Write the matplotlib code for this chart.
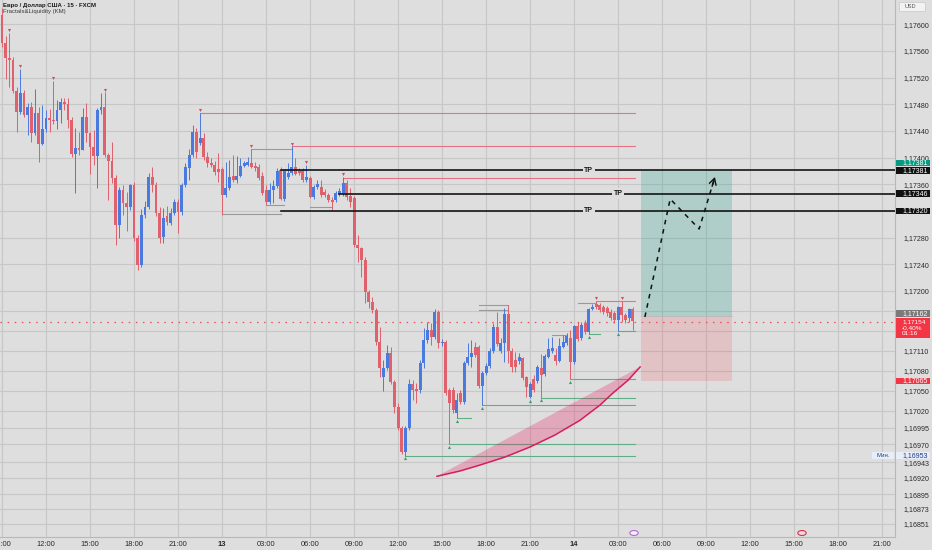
import matplotlib
matplotlib.use("Agg")
import matplotlib.pyplot as plt
import matplotlib.transforms as mtransforms
from matplotlib.patches import Rectangle, Polygon
import numpy as np

plt.rcParams['font.family'] = ['Liberation Sans', 'DejaVu Sans']

title = "Евро / Доллар США · 15 · FXCM"
indicator = "Fractals&Liquidity (KM)"

opens = [
 1.17614, 1.17572, 1.17549, 1.17547, 1.17500, 1.17468, 1.17497, 1.17464, 1.17476, 1.17437,
 1.17467, 1.17420, 1.17443, 1.17459, 1.17456, 1.17455, 1.17471, 1.17483, 1.17480, 1.17456,
 1.17405, 1.17414, 1.17411, 1.17461, 1.17437, 1.17416, 1.17402, 1.17471, 1.17476, 1.17404,
 1.17395, 1.17369, 1.17299, 1.17351, 1.17332, 1.17326, 1.17359, 1.17279, 1.17239, 1.17314,
 1.17326, 1.17371, 1.17359, 1.17317, 1.17281, 1.17312, 1.17302, 1.17317, 1.17333, 1.17318,
 1.17359, 1.17384, 1.17404, 1.17438, 1.17422, 1.17429, 1.17401, 1.17392, 1.17389, 1.17383,
 1.17383, 1.17344, 1.17354, 1.17372, 1.17366, 1.17372, 1.17387, 1.17389, 1.17392, 1.17387,
 1.17386, 1.17372, 1.17351, 1.17333, 1.17351, 1.17357, 1.17381, 1.17338, 1.17371, 1.17377,
 1.17386, 1.17380, 1.17380, 1.17366, 1.17369, 1.17341, 1.17356, 1.17356, 1.17348, 1.17344,
 1.17336, 1.17336, 1.17345, 1.17345, 1.17362, 1.17342, 1.17339, 1.17269, 1.17264, 1.17246,
 1.17198, 1.17183, 1.17171, 1.17123, 1.17071, 1.17084, 1.17107, 1.17063, 1.17026, 1.16995,
 1.16958, 1.16995, 1.17060, 1.17053, 1.17051, 1.17092, 1.17126, 1.17141, 1.17131, 1.17168,
 1.17122, 1.17123, 1.17051, 1.17051, 1.17017, 1.17047, 1.17033, 1.17092, 1.17101, 1.17116,
 1.17116, 1.17057, 1.17077, 1.17087, 1.17110, 1.17146, 1.17110, 1.17122, 1.17165, 1.17110,
 1.17096, 1.17095, 1.17099, 1.17071, 1.17041, 1.17068, 1.17065, 1.17084, 1.17075, 1.17101,
 1.17110, 1.17104, 1.17095, 1.17116, 1.17122, 1.17129, 1.17093, 1.17147, 1.17129, 1.17152,
 1.17138, 1.17173, 1.17180, 1.17179, 1.17176, 1.17174, 1.17168, 1.17167, 1.17156, 1.17176,
 1.17164, 1.17159, 1.17173]

highs = [
 1.17624, 1.17582, 1.17587, 1.17551, 1.17506, 1.17533, 1.17501, 1.17482, 1.17483, 1.17503,
 1.17476, 1.17479, 1.17471, 1.17473, 1.17515, 1.17486, 1.17489, 1.17489, 1.17489, 1.17461,
 1.17444, 1.17438, 1.17474, 1.17482, 1.17438, 1.17441, 1.17474, 1.17497, 1.17498, 1.17407,
 1.17423, 1.17374, 1.17356, 1.17359, 1.17348, 1.17360, 1.17363, 1.17284, 1.17323, 1.17335,
 1.17377, 1.17386, 1.17363, 1.17326, 1.17324, 1.17327, 1.17324, 1.17338, 1.17338, 1.17362,
 1.17392, 1.17413, 1.17449, 1.17444, 1.17467, 1.17437, 1.17408, 1.17399, 1.17395, 1.17407,
 1.17386, 1.17393, 1.17396, 1.17404, 1.17402, 1.17399, 1.17395, 1.17401, 1.17413, 1.17393,
 1.17390, 1.17378, 1.17359, 1.17362, 1.17366, 1.17384, 1.17386, 1.17383, 1.17392, 1.17417,
 1.17399, 1.17384, 1.17384, 1.17389, 1.17372, 1.17359, 1.17366, 1.17366, 1.17353, 1.17347,
 1.17341, 1.17350, 1.17354, 1.17371, 1.17366, 1.17354, 1.17342, 1.17284, 1.17266, 1.17251,
 1.17201, 1.17191, 1.17174, 1.17146, 1.17096, 1.17119, 1.17116, 1.17066, 1.17032, 1.16998,
 1.16998, 1.17068, 1.17066, 1.17062, 1.17096, 1.17144, 1.17153, 1.17152, 1.17173, 1.17171,
 1.17128, 1.17126, 1.17054, 1.17056, 1.17047, 1.17051, 1.17095, 1.17122, 1.17126, 1.17123,
 1.17119, 1.17080, 1.17092, 1.17114, 1.17152, 1.17168, 1.17129, 1.17174, 1.17179, 1.17114,
 1.17108, 1.17107, 1.17101, 1.17072, 1.17063, 1.17074, 1.17089, 1.17105, 1.17105, 1.17129,
 1.17131, 1.17114, 1.17129, 1.17134, 1.17137, 1.17141, 1.17149, 1.17153, 1.17153, 1.17156,
 1.17174, 1.17180, 1.17185, 1.17182, 1.17179, 1.17177, 1.17173, 1.17170, 1.17177, 1.17185,
 1.17167, 1.17174, 1.17176]

lows = [
 1.17566, 1.17518, 1.17506, 1.17497, 1.17438, 1.17465, 1.17461, 1.17434, 1.17423, 1.17434,
 1.17393, 1.17419, 1.17438, 1.17438, 1.17450, 1.17443, 1.17452, 1.17471, 1.17444, 1.17401,
 1.17347, 1.17404, 1.17411, 1.17423, 1.17375, 1.17389, 1.17354, 1.17465, 1.17401, 1.17336,
 1.17362, 1.17269, 1.17279, 1.17314, 1.17290, 1.17321, 1.17275, 1.17231, 1.17236, 1.17309,
 1.17323, 1.17348, 1.17312, 1.17272, 1.17272, 1.17299, 1.17299, 1.17314, 1.17287, 1.17314,
 1.17356, 1.17366, 1.17401, 1.17399, 1.17419, 1.17396, 1.17386, 1.17386, 1.17374, 1.17363,
 1.17314, 1.17341, 1.17351, 1.17363, 1.17362, 1.17371, 1.17386, 1.17387, 1.17384, 1.17380,
 1.17366, 1.17344, 1.17329, 1.17330, 1.17332, 1.17354, 1.17336, 1.17335, 1.17368, 1.17374,
 1.17374, 1.17374, 1.17363, 1.17363, 1.17339, 1.17338, 1.17353, 1.17341, 1.17341, 1.17333,
 1.17321, 1.17333, 1.17342, 1.17342, 1.17336, 1.17326, 1.17266, 1.17243, 1.17221, 1.17182,
 1.17174, 1.17167, 1.17119, 1.17071, 1.17050, 1.17081, 1.17060, 1.17017, 1.16991, 1.16956,
 1.16953, 1.16992, 1.17036, 1.17032, 1.17047, 1.17084, 1.17122, 1.17119, 1.17128, 1.17114,
 1.17117, 1.17044, 1.16970, 1.17017, 1.17009, 1.17030, 1.17030, 1.17089, 1.17086, 1.17101,
 1.17054, 1.17029, 1.17074, 1.17084, 1.17107, 1.17117, 1.17107, 1.17093, 1.17092, 1.17078,
 1.17078, 1.17090, 1.17066, 1.17041, 1.17039, 1.17048, 1.17062, 1.17040, 1.17072, 1.17099,
 1.17107, 1.17089, 1.17093, 1.17114, 1.17119, 1.17068, 1.17090, 1.17125, 1.17126, 1.17135,
 1.17135, 1.17171, 1.17173, 1.17168, 1.17165, 1.17162, 1.17156, 1.17152, 1.17140, 1.17153,
 1.17152, 1.17153, 1.17141]

closes = [
 1.17572, 1.17549, 1.17547, 1.17500, 1.17468, 1.17497, 1.17464, 1.17476, 1.17437, 1.17467,
 1.17420, 1.17443, 1.17459, 1.17456, 1.17455, 1.17471, 1.17483, 1.17480, 1.17456, 1.17405,
 1.17414, 1.17411, 1.17461, 1.17437, 1.17416, 1.17402, 1.17471, 1.17476, 1.17404, 1.17395,
 1.17369, 1.17299, 1.17351, 1.17332, 1.17326, 1.17359, 1.17279, 1.17239, 1.17314, 1.17326,
 1.17371, 1.17359, 1.17317, 1.17279, 1.17309, 1.17303, 1.17317, 1.17333, 1.17318, 1.17359,
 1.17386, 1.17404, 1.17438, 1.17408, 1.17429, 1.17401, 1.17392, 1.17389, 1.17378, 1.17378,
 1.17344, 1.17354, 1.17371, 1.17366, 1.17372, 1.17387, 1.17392, 1.17393, 1.17386, 1.17384,
 1.17369, 1.17347, 1.17333, 1.17351, 1.17357, 1.17380, 1.17338, 1.17380, 1.17377, 1.17386,
 1.17375, 1.17377, 1.17366, 1.17371, 1.17341, 1.17356, 1.17360, 1.17344, 1.17344, 1.17336,
 1.17333, 1.17347, 1.17350, 1.17362, 1.17341, 1.17333, 1.17269, 1.17264, 1.17246, 1.17198,
 1.17183, 1.17171, 1.17123, 1.17084, 1.17084, 1.17107, 1.17063, 1.17026, 1.16995, 1.16958,
 1.16995, 1.17060, 1.17051, 1.17050, 1.17092, 1.17126, 1.17141, 1.17131, 1.17168, 1.17122,
 1.17123, 1.17047, 1.17032, 1.17021, 1.17036, 1.17033, 1.17092, 1.17101, 1.17107, 1.17104,
 1.17057, 1.17077, 1.17087, 1.17110, 1.17146, 1.17120, 1.17122, 1.17165, 1.17110, 1.17086,
 1.17086, 1.17101, 1.17069, 1.17056, 1.17060, 1.17051, 1.17086, 1.17074, 1.17102, 1.17113,
 1.17114, 1.17095, 1.17117, 1.17123, 1.17132, 1.17093, 1.17147, 1.17128, 1.17149, 1.17138,
 1.17173, 1.17176, 1.17176, 1.17171, 1.17168, 1.17167, 1.17159, 1.17156, 1.17176, 1.17164,
 1.17156, 1.17173, 1.17155]

# time axis (bar index of 15-minute bars, bar 0 = 09:00 on the 12th)
x_tick_bars = [0, 12, 24, 36, 48, 60, 72, 84, 96, 108, 120, 132, 144, 156,
               168, 180, 192, 204, 216, 228, 240]
x_tick_labels = ["09:00", "12:00", "15:00", "18:00", "21:00", "13", "03:00", "06:00",
                 "09:00", "12:00", "15:00", "18:00", "21:00", "14", "03:00", "06:00",
                 "09:00", "12:00", "15:00", "18:00", "21:00"]
y_ticks = [1.17600, 1.17560, 1.17520, 1.17480, 1.17440, 1.17400, 1.17360,
           1.17280, 1.17240, 1.17200, 1.17110, 1.17080, 1.17050,
           1.17020, 1.16995, 1.16970, 1.16943, 1.16920, 1.16895, 1.16873, 1.16851]
y_grid_only = [1.17320, 1.17170, 1.17140]

# annotations
tp_levels = [1.17381, 1.17346, 1.17320]
tp_start_bar = [76, 92, 76]
tp_label_bar = [160, 168, 160]

entry_price = 1.17162
stop_price = 1.17065
target_price = 1.17381
last_price = 1.17154
min_price = 1.16953
position_bars = [174.3, 199.1]

path_bars = [175.3, 182.2, 190.1, 194.4]
path_prices = [1.17161, 1.17338, 1.17293, 1.17371]

wedge_bars = [118.6, 124.9, 130.4, 137.2, 144.0, 150.8, 157.6, 163.1, 166.6, 170.7, 174.0]
wedge_prices = [1.16922, 1.16930, 1.16939, 1.16951, 1.16966, 1.16984, 1.17006,
                1.17029, 1.17047, 1.17066, 1.17086]

high_lines = [(54, 172.5, 1.17467), (79, 172.5, 1.17417), (93, 172.5, 1.17369),
              (162, 172.5, 1.17185)]
low_lines = [(110, 172.5, 1.16953), (122, 172.5, 1.16970), (131, 172.5, 1.17029),
             (147, 172.5, 1.17040), (155, 172.5, 1.17068), (168, 172.5, 1.17140),
             (124, 128, 1.17009), (160, 163, 1.17135)]
grey_lines = [(68, 79, 1.17413), (60, 76, 1.17315), (72, 77, 1.17329), (84, 90, 1.17326),
              (130, 138, 1.17179), (130, 138, 1.17172), (157, 162, 1.17182),
              (150, 154, 1.17134), (76, 83, 1.17381)]
high_fractal_bars = [2, 5, 14, 28, 54, 68, 79, 83, 93, 162, 169]
low_fractal_bars = [110, 122, 124, 131, 144, 147, 155, 160, 168]

BG = '#dedede'
GRID = '#c7c7c7'
UP = '#4a7ade'
DOWN = '#e0606c'

W, H = 932, 550
fig = plt.figure(figsize=(W / 100, H / 100), dpi=100, facecolor=BG)
ax = fig.add_axes([0, 13 / H, 895 / W, 537 / H])
ax.set_facecolor(BG)
ax.set_xlim(-0.545, 243.5)
ax.set_ylim(1.1683095, 1.1763645)

o = np.array(opens); h = np.array(highs); l = np.array(lows); c = np.array(closes)
idx = np.arange(len(o))
up = c >= o
colors = np.where(up, UP, DOWN)
ax.vlines(idx, l, h, colors=colors, lw=0.7, zorder=3)
body_bottom = np.minimum(o, c)
body_h = np.maximum(np.abs(c - o), 0.000014)
ax.bar(idx, body_h, bottom=body_bottom, width=0.8, color=colors, linewidth=0, zorder=4)

# grid / ticks
ax.set_xticks(x_tick_bars)
ax.set_xticklabels(x_tick_labels)
for lab, txt in zip(ax.get_xticklabels(), x_tick_labels):
    if len(txt) == 2:
        lab.set_fontweight('bold')
ax.set_yticks(y_ticks)
ax.set_yticklabels([f"{v:.5f}".replace('.', ',') for v in y_ticks])
ax.set_yticks(y_grid_only, minor=True)
ax.yaxis.tick_right()
ax.tick_params(axis='y', which='both', length=0, pad=5.8, labelsize=5.1, labelcolor='#2a2a2a')
ax.tick_params(axis='x', length=0, pad=2.6, labelsize=5.4, labelcolor='#2a2a2a')
ax.grid(True, which='major', color=GRID, lw=0.8)
ax.grid(True, which='minor', axis='y', color=GRID, lw=0.8)
ax.set_axisbelow(True)
for s in ['top', 'left']:
    ax.spines[s].set_visible(False)
for s in ['right', 'bottom']:
    ax.spines[s].set_color('#b8b8b8')
    ax.spines[s].set_linewidth(0.8)

# fractal lines
for x0, x1, y in high_lines:
    ax.plot([x0, x1], [y, y], color='#e57383', lw=0.8, zorder=2)
for x0, x1, y in low_lines:
    ax.plot([x0, x1], [y, y], color='#5fae86', lw=0.8, zorder=2)
for x0, x1, y in grey_lines:
    ax.plot([x0, x1], [y, y], color='#9a9a9a', lw=0.8, zorder=2)
ax.scatter(high_fractal_bars, h[high_fractal_bars] + 0.00004, marker='v', s=5,
           color='#e0485a', linewidths=0, zorder=5)
ax.scatter(low_fractal_bars, l[low_fractal_bars] - 0.00004, marker='^', s=5,
           color='#3f9b6e', linewidths=0, zorder=5)

# TP lines
for lvl, x0, xl in zip(tp_levels, tp_start_bar, tp_label_bar):
    ax.plot([x0, 243.5], [lvl, lvl], color='#151515', lw=1.2, zorder=6)
    ax.text(xl, lvl, "TP", fontsize=5.0, fontweight='bold', ha='center', va='center',
            color='#151515', zorder=7,
            bbox=dict(boxstyle='square,pad=0.25', fc=BG, ec='none'))

# position box
ax.add_patch(Rectangle((position_bars[0], entry_price), position_bars[1] - position_bars[0],
                       target_price - entry_price, facecolor=(8/255, 153/255, 129/255, 0.22),
                       edgecolor='none', zorder=2))
ax.add_patch(Rectangle((position_bars[0], stop_price), position_bars[1] - position_bars[0],
                       entry_price - stop_price, facecolor=(242/255, 54/255, 69/255, 0.16),
                       edgecolor='none', zorder=2))
ax.plot(position_bars, [entry_price, entry_price], color='#b9b9b9', lw=0.6, zorder=2)

# last price dotted line
ax.axhline(last_price, color='#f04a58', lw=0.9, linestyle=(0, (1.2, 4.5)), zorder=5)

# projected path
ax.plot(path_bars, path_prices, color='#111111', lw=1.1, linestyle=(0, (3, 3.2)), zorder=8)
end = np.array([path_bars[-1], path_prices[-1]])
prev = np.array([path_bars[-2], path_prices[-2]])
tail = end - 0.18 * (end - prev)
ax.annotate('', xy=(end[0], end[1]), xytext=(tail[0], tail[1]),
            arrowprops=dict(arrowstyle='->,head_length=0.45,head_width=0.25',
                            color='#111111', lw=1.0, shrinkA=0, shrinkB=0), zorder=8)

# liquidity wedge
wx = np.array(wedge_bars); wy = np.array(wedge_prices)
poly = list(zip(wx, wy))
ax.add_patch(Polygon(poly, closed=True, facecolor=(233/255, 30/255, 99/255, 0.28),
                     edgecolor='none', zorder=3))
ax.plot(wx, wy, color='#d81b60', lw=1.1, zorder=4)

# title
fig.text(3 / W, 1 - 5 / H, title, fontsize=4.3, fontweight='bold', color='#1a1a1a',
         ha='left', va='center')
fig.text(3 / W, 1 - 11.5 / H, indicator, fontsize=4.3, color='#3a3a3a', ha='left', va='center')

# right axis labels
blend = mtransforms.blended_transform_factory(fig.transFigure, ax.transData)
px = 1.5e-5


def axis_label(price, text, fc, tc, height=6.6):
    hh = height * px
    fig.patches.append(Rectangle((896 / W, price - hh / 2), 34 / W, hh, transform=blend,
                                 facecolor=fc, edgecolor='none', zorder=20))
    fig.text(902 / W, price, text, transform=blend, fontsize=5.0, color=tc,
             ha='left', va='center', zorder=21)


axis_label(1.17392, "1,17381", '#089981', 'white')
axis_label(target_price, "1,17381", '#111111', 'white')
axis_label(tp_levels[1], "1,17346", '#111111', 'white')
axis_label(tp_levels[2], "1,17320", '#111111', 'white')
axis_label(1.17166, "1,17162", '#7a7a7a', 'white')
axis_label(stop_price, "1,17065", '#f23645', 'white')
# multi-line last price label
top_p, bot_p = 1.171595, 1.171295
fig.patches.append(Rectangle((896 / W, bot_p), 34 / W, top_p - bot_p, transform=blend,
                             facecolor='#f23645', edgecolor='none', zorder=20))
for yy, tt in zip([1.17154, 1.171455, 1.171365], ["1,17154", "-0,40%", "01:16"]):
    fig.text(902 / W, yy, tt, transform=blend, fontsize=4.6, color='white',
             ha='left', va='center', zorder=21)
# min label
fig.patches.append(Rectangle((896 / W, min_price - 3.2 * px), 34 / W, 6.4 * px,
                             transform=blend, facecolor='#e8eef8', edgecolor='none', zorder=20))
fig.text(902 / W, min_price, "1,16953", transform=blend, fontsize=5.0, color='#1e3a8a',
         ha='left', va='center', zorder=21)
fig.patches.append(Rectangle((872 / W, min_price - 3.2 * px), 22 / W, 6.4 * px,
                             transform=blend, facecolor='#e8eef8', edgecolor='none', zorder=20))
fig.text(883 / W, min_price, "Мин.", transform=blend, fontsize=4.4, color='#1e3a8a',
         ha='center', va='center', zorder=21)
# USD box
fig.patches.append(Rectangle((899 / W, 1 - 11 / H), 26 / W, 9 / H, transform=fig.transFigure,
                             facecolor='#f2f2f2', edgecolor='#c8c8c8', lw=0.5, zorder=20))
fig.text(905 / W, 1 - 6.5 / H, "USD", fontsize=4.0, color='#555555', ha='left',
         va='center', zorder=21)

# event icons at the bottom
fig.add_artist(plt.Circle((634 / W, 1 - 533 / H), 0.0045, transform=fig.transFigure,
                          facecolor='#f4ecf8', edgecolor='#b46ad6', lw=0.8, zorder=20))
fig.add_artist(plt.Circle((802 / W, 1 - 533 / H), 0.0045, transform=fig.transFigure,
                          facecolor='#f0d8dc', edgecolor='#d0364a', lw=0.8, zorder=20))

fig.savefig("out.png", dpi=100, facecolor=BG)
